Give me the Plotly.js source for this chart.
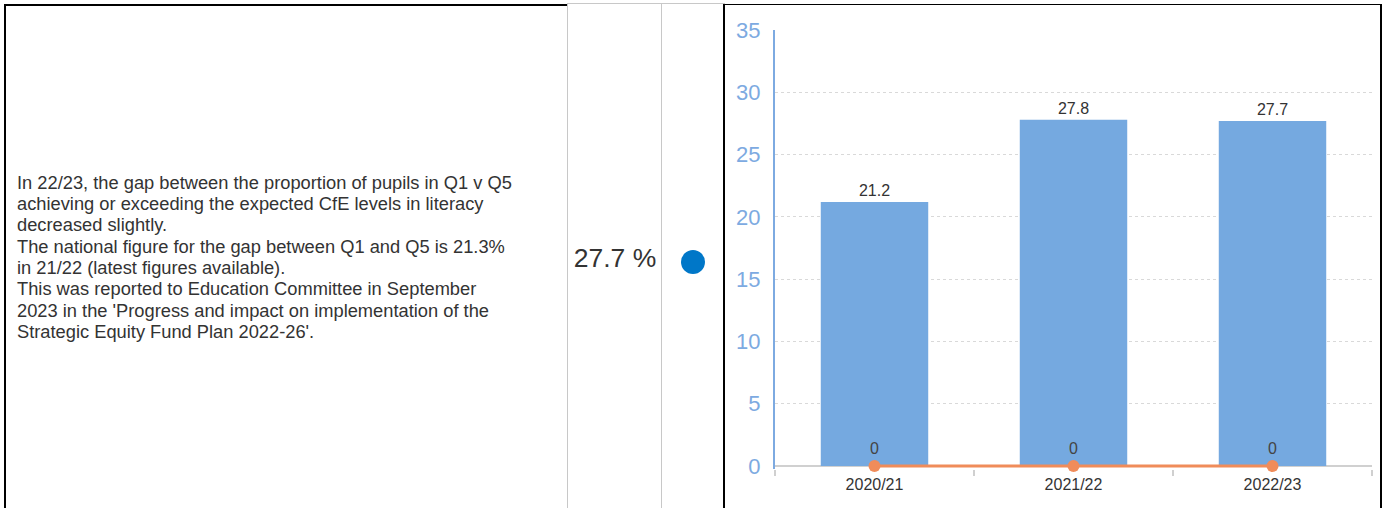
<!DOCTYPE html>
<html>
<head>
<meta charset="utf-8">
<script src="https://cdn.plot.ly/plotly-3.0.1.min.js"></script>
<style>
  html, body { margin:0; padding:0; background:#fff; width:1385px; height:508px; overflow:hidden; font-family:"Liberation Sans", Arial, sans-serif; }
  .textcell { position:absolute; left:4px; top:4px; width:563px; height:504px; border-left:2px solid #000; border-top:2px solid #000; box-sizing:border-box; display:flex; align-items:center; }
  .textcell div { padding-left:11px; font-size:18.3px; line-height:21.3px; color:#333; width:505px; }
  .valcell { position:absolute; left:567px; top:3px; width:95px; height:510px; border-left:1px solid #c8c8c8; border-top:1px solid #c8c8c8; box-sizing:border-box; display:flex; align-items:center; justify-content:center; font-size:26.5px; color:#333; }
  .dotcell { position:absolute; left:661px; top:3px; width:64px; height:510px; border-left:1px solid #c8c8c8; border-top:1px solid #c8c8c8; box-sizing:border-box; }
  .dot { position:absolute; left:19px; top:246px; width:24px; height:24px; border-radius:50%; background:#0077c8; }
  .chartbox { position:absolute; left:723px; top:4px; width:659px; height:510px; border:2px solid #000; box-sizing:border-box; }
  #chart { position:absolute; left:725px; top:5px; width:655px; height:503px; }
</style>
</head>
<body>
<div class="textcell"><div>In 22/23, the gap between the proportion of pupils in Q1 v Q5 achieving or exceeding the expected CfE levels in literacy decreased slightly.<br>The national figure for the gap between Q1 and Q5 is 21.3% in 21/22 (latest figures available).<br>This was reported to Education Committee in September 2023 in the 'Progress and impact on implementation of the Strategic Equity Fund Plan 2022-26'.</div></div>
<div class="valcell">27.7 %</div>
<div class="dotcell"><div class="dot"></div></div>
<div class="chartbox"></div>
<div id="chart"></div>
<script>
const categories = ["2020/21", "2021/22", "2022/23"];
const gapValues = [21.2, 27.8, 27.7];
const targetValues = [0, 0, 0];

const traces = [
  {
    type: "bar",
    x: categories,
    y: gapValues,
    text: gapValues.map(v => v.toFixed(1)),
    textposition: "outside",
    textfont: { family: "Liberation Sans, Arial, sans-serif", size: 16, color: "#333" },
    marker: { color: "rgb(117,169,224)" },
    cliponaxis: false,
    showlegend: false
  },
  {
    type: "scatter",
    mode: "lines+markers+text",
    x: categories,
    y: targetValues,
    text: targetValues.map(v => String(v)),
    textposition: "top center",
    textfont: { family: "Liberation Sans, Arial, sans-serif", size: 16, color: "#444" },
    line: { color: "rgb(240,140,90)", width: 3 },
    marker: { color: "rgb(240,140,90)", size: 12 },
    cliponaxis: false,
    showlegend: false
  }
];

const layout = {
  width: 655,
  height: 503,
  margin: { l: 50, r: 8, t: 25, b: 39 },
  paper_bgcolor: "#fff",
  plot_bgcolor: "#fff",
  bargap: 0.46,
  font: { family: "Liberation Sans, Arial, sans-serif" },
  xaxis: {
    type: "category",
    showline: false,
    ticks: "outside",
    tickson: "boundaries",
    ticklen: 6,
    tickcolor: "#d0d0d0",
    tickwidth: 2,
    showgrid: false,
    ticklabelstandoff: 4,
    tickfont: { size: 16, color: "#333" },
    zeroline: false
  },
  yaxis: {
    range: [-0.24, 35],
    tickvals: [0, 5, 10, 15, 20, 25, 30, 35],
    showline: true,
    linecolor: "rgb(125,170,225)",
    linewidth: 2,
    showgrid: true,
    gridcolor: "#d9d9d9",
    griddash: "dot",
    gridwidth: 1,
    zeroline: true,
    zerolinecolor: "#d0d0d0",
    zerolinewidth: 2,
    ticks: "",
    ticklabelstandoff: 8,
    tickfont: { size: 22, color: "rgb(125,170,225)" }
  }
};

Plotly.newPlot("chart", traces, layout, { displayModeBar: false, staticPlot: true });
</script>
</body>
</html>
